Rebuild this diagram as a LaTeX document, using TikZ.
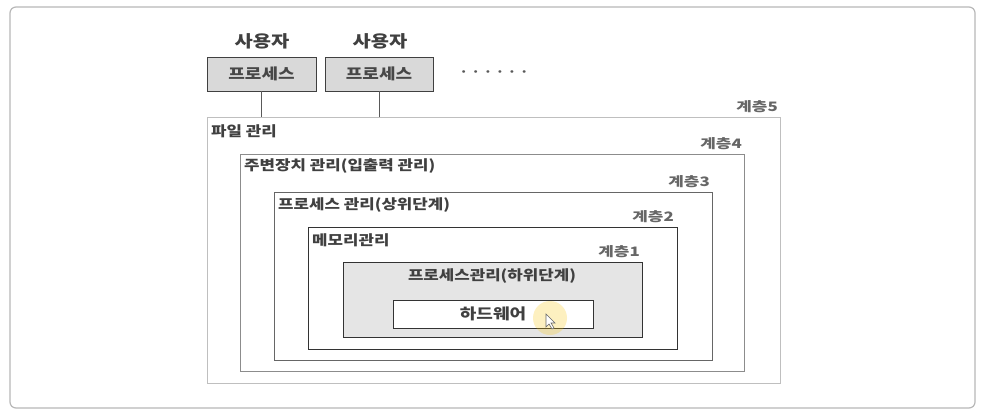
\documentclass[tikz,border=0pt]{standalone}
\usepackage{fontspec}
\setmainfont{Noto Sans CJK KR}
\newfontfamily\kr[FakeStretch=1.2]{Noto Sans CJK KR}
\newfontfamily\krw[FakeStretch=1.3]{Noto Sans CJK KR}
\begin{document}
\begin{tikzpicture}[x=1pt,y=-1pt,
  txt/.style={inner sep=0pt,font=\kr\bfseries,text=black!75},
  lay/.style={inner sep=0pt,font=\krw\bfseries\fontsize{13}{14}\selectfont,text=black!60,anchor=south east},
  boxx/.style={draw,inner sep=0pt,outer sep=0pt,anchor=north west,line width=0.9pt},
  ttl/.style={inner sep=0pt,anchor=west,font=\kr\bfseries\fontsize{14}{16}\selectfont,text=black!75}]
\useasboundingbox (0,0) rectangle (984,418);
\fill[white] (0,0) rectangle (984,418);
% outer frame
\draw[black!28,line width=1.2pt,rounded corners=6pt] (10,7) rectangle (975,408);
% users
\node[txt,font=\kr\bfseries\fontsize{16.5}{18}\selectfont] (U1) at (262,41) {사용자};
\node[txt,font=\kr\bfseries\fontsize{16.5}{18}\selectfont] (U2) at (380,41) {사용자};
\node[draw=black!75,fill=black!15,line width=1pt,minimum width=109pt,minimum height=34pt,inner sep=0pt,outer sep=0pt,font=\kr\bfseries\fontsize{15}{17}\selectfont,text=black!72] (P1) at (261.5,74) {프로세스};
\node[draw=black!75,fill=black!15,line width=1pt,minimum width=108pt,minimum height=34pt,inner sep=0pt,outer sep=0pt,font=\kr\bfseries\fontsize{15}{17}\selectfont,text=black!72] (P2) at (379,74) {프로세스};
\node[txt,font=\kr\bfseries\fontsize{12}{14}\selectfont,text=black!65] (DOTS) at (494,74) {· · · · · ·};
% layers
\node[boxx,draw=black!25,minimum width=573pt,minimum height=266pt] (L5) at (207,117) {};
\node[boxx,draw=black!45,minimum width=504pt,minimum height=217pt] (L4) at (240,154) {};
\node[boxx,draw=black!60,minimum width=438pt,minimum height=168pt] (L3) at (274,192) {};
\node[boxx,draw=black!80,minimum width=369pt,minimum height=122pt] (L2) at (308,227) {};
\node[boxx,draw=black!80,fill=black!10,minimum width=299pt,minimum height=75pt] (L1) at (343,262) {};
\node[boxx,draw=black!80,fill=white,minimum width=200pt,minimum height=28pt] (HW) at (393,300) {};
% connectors
\draw[black!65,line width=1pt] (P1.south) -- (P1.south |- L5.north);
\draw[black!65,line width=1pt] (P2.south) -- (P2.south |- L5.north);
% layer labels
\node[lay] (T5) at (778,113) {계층5};
\node[lay] (T4) at (742,150) {계층4};
\node[lay] (T3) at (710,188) {계층3};
\node[lay] (T2) at (674,223) {계층2};
\node[lay] (T1) at (640,258) {계층1};
% titles
\node[ttl] (N5) at (211,131) {파일 관리};
\node[ttl] (N4) at (244,166) {주변장치 관리(입출력 관리)};
\node[ttl] (N3) at (278,205) {프로세스 관리(상위단계)};
\node[ttl] (N2) at (312,240) {메모리관리};
\node[txt,font=\kr\bfseries\fontsize{14}{16}\selectfont] (N1) at (492,276) {프로세스관리(하위단계)};
\node[txt,font=\kr\bfseries\fontsize{15}{17}\selectfont] (NH) at (HW.center) {하드웨어};
% cursor highlight
\fill[yellow!60!orange,opacity=0.25] (550,318) circle (17pt);
\draw[black!60,fill=white,line width=0.6pt] (546,314) -- (546,327) -- (549,324) -- (552,329) -- (554,328) -- (551,323) -- (555,323) -- cycle;
\end{tikzpicture}
\end{document}
